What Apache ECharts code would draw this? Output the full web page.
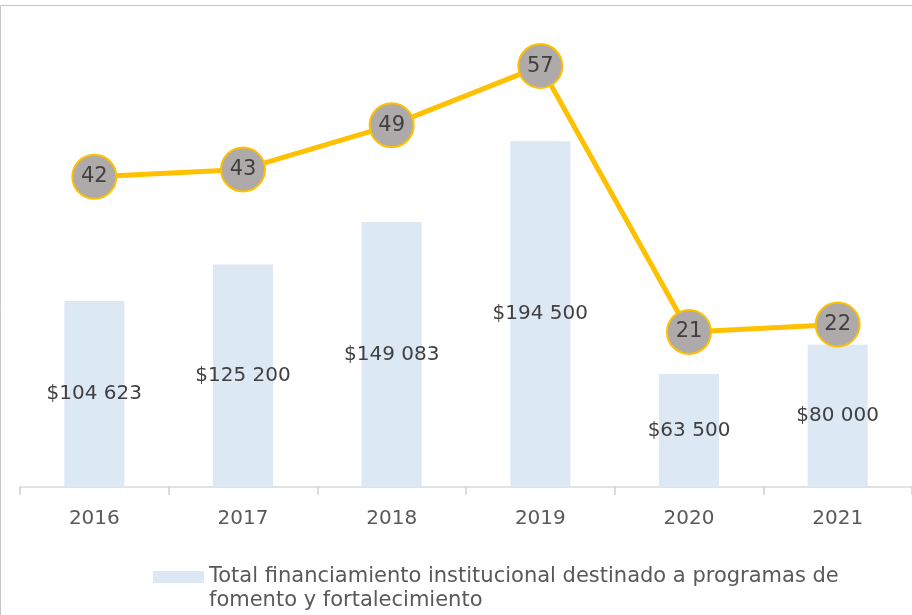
<!DOCTYPE html>
<html>
<head>
<meta charset="utf-8">
<script src="https://cdn.jsdelivr.net/npm/echarts@6/dist/echarts.min.js"></script>
<style>
  html, body { margin: 0; padding: 0; background: #fff; }
  #chart { width: 912px; height: 615px; }
</style>
</head>
<body>
<div id="chart"></div>
<script>
// datos
var years = ['2016', '2017', '2018', '2019', '2020', '2021']
var financiamiento = [104623, 125200, 149083, 194500, 63500, 80000]
var programas = [42, 43, 49, 57, 21, 22]
var serieBarras = 'Total financiamiento institucional destinado a programas de\nfomento y fortalecimiento'

var chart = echarts.init(document.getElementById('chart'))

function pesos(v) {
  // $104 623 -> separador de miles con espacio
  return '$' + String(v).replace(/\B(?=(\d{3})+(?!\d))/g, ' ')
}

// la leyenda va en dos renglones, el cuadro alineado con el primero
function leyenda(top, linea, visible) {
  return {
    data: [serieBarras],
    left: 148,
    top: top,
    icon: 'rect',
    itemWidth: 51,
    itemHeight: 12,
    itemStyle: visible ? {} : { opacity: 0 },
    formatter: function (name) { return name.split('\n')[linea] },
    textStyle: { fontSize: 21, color: '#595959', lineHeight: 24 }
  }
}

chart.setOption({
  animation: false,
  textStyle: { fontFamily: 'DejaVu Sans' },
  graphic: [{
    type: 'rect',
    shape: { x: 0.5, y: 5.5, width: 930, height: 640 },
    style: { fill: 'none', stroke: '#c6c6c6', lineWidth: 1 },
    silent: true
  }],
  grid: {
    left: 20,
    top: 7,
    width: 900,
    bottom: 128
  },
  legend: [leyenda(560, 0, true), leyenda(584, 1, false)],
  xAxis: [{
    type: 'category',
    data: years,
    axisLine: { lineStyle: { color: '#d9d9d9', width: 1.5 } },
    axisTick: { show: true, interval: 0, length: 8, lineStyle: { color: '#d0d0d0', width: 1.5 } },
    axisLabel: { fontSize: 20, color: '#595959', margin: 22 }
  }, {
    // marcas cortas al centro de cada categoría
    type: 'category',
    data: years,
    position: 'bottom',
    axisLine: { show: false },
    axisTick: { show: true, interval: 0, alignWithLabel: true, inside: true, length: 5, lineStyle: { color: '#d0d0d0', width: 1.5 } },
    axisLabel: { show: false }
  }],
  yAxis: [{
    type: 'value',
    min: 0,
    max: 270000,
    show: false
  }, {
    type: 'value',
    min: 0,
    max: 65,
    show: false
  }],
  series: [{
    name: serieBarras,
    type: 'bar',
    data: financiamiento,
    barWidth: 60,
    itemStyle: { color: '#dde8f5' },
    label: {
      show: true,
      position: 'inside',
      fontSize: 20,
      color: '#404040',
      formatter: function (p) { return pesos(p.value) }
    },
    z: 1
  }, {
    name: 'Programas',
    type: 'line',
    yAxisIndex: 1,
    data: programas,
    lineStyle: { color: '#ffc000', width: 5 },
    symbol: 'circle',
    symbolSize: 44,
    itemStyle: { color: '#aeaaaa', borderColor: '#ffc000', borderWidth: 2 },
    label: {
      show: true,
      position: 'inside',
      fontSize: 21,
      color: '#404040'
    },
    z: 3
  }]
})
</script>
</body>
</html>
